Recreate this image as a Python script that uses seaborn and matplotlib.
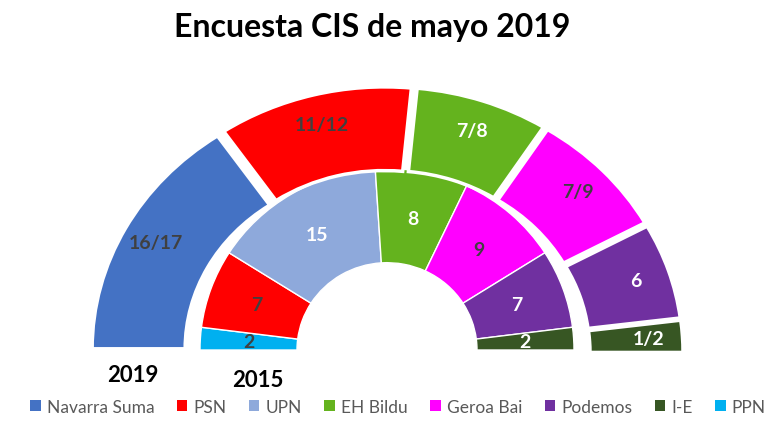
import matplotlib
matplotlib.use("Agg")
import matplotlib.pyplot as plt
import seaborn as sns
from matplotlib.patches import Patch

# party colours
party_colors = {
    "Navarra Suma": "#4472C4",
    "PSN": "#FF0000",
    "UPN": "#8EA9DB",
    "EH Bildu": "#64B31E",
    "Geroa Bai": "#FF00FF",
    "Podemos": "#7030A0",
    "I-E": "#375623",
    "PPN": "#00B0F0",
}
legend_order = ["Navarra Suma", "PSN", "UPN", "EH Bildu", "Geroa Bai", "Podemos", "I-E", "PPN"]

parties_2019 = ["Navarra Suma", "PSN", "EH Bildu", "Geroa Bai", "Podemos", "I-E"]
seats_2019 = [15.5, 11, 7.5, 8, 6, 2]
labels_2019 = ["16/17", "11/12", "7/8", "7/9", "6", "1/2"]

# 2015 result (inner ring)
parties_2015 = ["PPN", "PSN", "UPN", "EH Bildu", "Geroa Bai", "Podemos", "I-E"]
seats_2015 = [2, 7, 15, 8, 9, 7, 2]
labels_2015 = ["2", "7", "15", "8", "9", "7", "2"]

dark_labels = {"Navarra Suma", "PSN", "Geroa Bai", "PPN"}

sns.set_theme(style="white")
plt.rcParams["font.family"] = ["Lato", "DejaVu Sans"]

W, H = 768, 431
fig = plt.figure(figsize=(W / 100, H / 100), dpi=100)
fig.patch.set_facecolor("white")


def half_ring(parties, seats, labels, squash, cy, radius, width, explode, pctdist, edge_lw):
    ax = fig.add_axes([0, 0, 1, 1])
    total = sum(seats)
    vals = list(seats) + [total]
    cols = [party_colors[p] for p in parties] + ["none"]
    lbl_iter = iter(list(labels) + [""])
    # explode is in data units here (axes are in pixels)
    wedges, _, autotexts = ax.pie(
        vals, colors=cols, startangle=180, counterclock=False,
        radius=radius, center=(387, cy / squash),
        explode=[explode] * len(seats) + [0],
        autopct=lambda p: next(lbl_iter), pctdistance=pctdist,
        wedgeprops=dict(width=width, edgecolor="white", linewidth=edge_lw),
        textprops=dict(fontsize=14, fontweight="bold"),
    )
    wedges[-1].set_visible(False)
    for t, p in zip(autotexts, parties):
        t.set_color("#404040" if p in dark_labels else "white")
    ax.set_aspect("auto")
    ax.set_xlim(0, W)
    ax.set_ylim(0, H / squash)
    ax.axis("off")
    ax.patch.set_alpha(0)
    return ax


half_ring(parties_2015, seats_2015, labels_2015, squash=0.97, cy=80,
          radius=187, width=97, explode=0, pctdist=0.74, edge_lw=1)
half_ring(parties_2019, seats_2019, labels_2019, squash=0.90, cy=77,
          radius=286, width=93, explode=10, pctdist=0.88, edge_lw=2.5)

fig.text(372 / W, 1 - 28 / H, "Encuesta CIS de mayo 2019", ha="center", va="center",
         fontsize=23, fontweight="bold", color="black")
fig.text(133 / W, 1 - 376 / H, "2019", ha="center", va="center",
         fontsize=16, fontweight="bold", color="black")
fig.text(258 / W, 1 - 381 / H, "2015", ha="center", va="center",
         fontsize=16, fontweight="bold", color="black")

handles = [Patch(facecolor=party_colors[p], edgecolor="none", label=p) for p in legend_order]
fig.legend(handles=handles, loc="center", bbox_to_anchor=(398 / W, 1 - 408 / H),
           ncol=8, frameon=False, fontsize=12.5, handlelength=0.6, handleheight=0.6,
           handletextpad=0.35, columnspacing=1.3, labelcolor="#595959")

fig.savefig("out.png", dpi=100, facecolor="white")
